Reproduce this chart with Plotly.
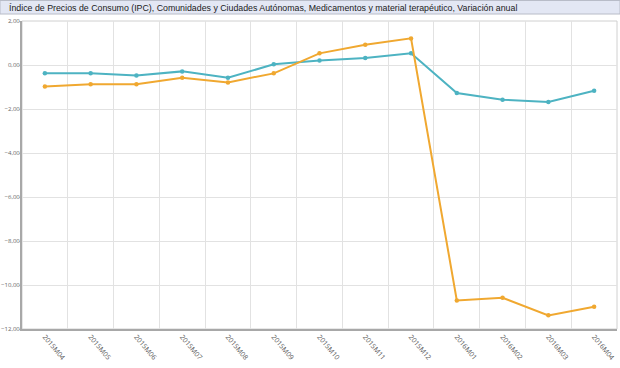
import plotly.graph_objects as go

categories = ["2015M04", "2015M05", "2015M06", "2015M07", "2015M08", "2015M09",
              "2015M10", "2015M11", "2015M12", "2016M01", "2016M02", "2016M03", "2016M04"]
serie_azul = [-0.38, -0.38, -0.48, -0.29, -0.58, 0.03, 0.21, 0.32, 0.53, -1.27, -1.58, -1.68, -1.17]
serie_naranja = [-0.98, -0.88, -0.88, -0.58, -0.79, -0.38, 0.53, 0.92, 1.21, -10.70, -10.58, -11.38, -10.99]
y_ticks = [2, 0, -2, -4, -6, -8, -10, -12]
titulo = ("Índice de Precios de Consumo (IPC), Comunidades y Ciudades Autónomas, "
          "Medicamentos y material terapéutico, Variación anual")

W, H = 620, 368
L, R, T, B = 22, 3, 21, 39
pw = W - L - R
ph = H - T - B

fig = go.Figure()
fig.add_trace(go.Scatter(x=categories, y=serie_azul, mode="lines+markers",
                         line=dict(color="#4db3c2", width=2),
                         marker=dict(size=4.5, color="#4db3c2"), hoverinfo="skip"))
fig.add_trace(go.Scatter(x=categories, y=serie_naranja, mode="lines+markers",
                         line=dict(color="#f0a830", width=2),
                         marker=dict(size=4.5, color="#f0a830"), hoverinfo="skip"))

def py(pix):
    return 1 + (T - pix) / ph

fig.add_shape(type="rect", xref="paper", yref="paper", x0=0, x1=1, y0=0, y1=1,
              line=dict(color="#d0d0d0", width=1), layer="below")
fig.add_shape(type="rect", xref="paper", yref="paper",
              x0=-L / pw, x1=1 + R / pw, y0=py(14), y1=py(0.5),
              line=dict(color="#b8bcc8", width=1), fillcolor="#e3e7f4", layer="below")
fig.add_annotation(text=titulo, xref="paper", yref="paper",
                   x=(7 - L) / pw, y=py(7.5),
                   xanchor="left", yanchor="middle", showarrow=False,
                   font=dict(family="Liberation Sans, Arial", size=8.8, color="#1a1a1a"))

fig.update_layout(
    width=W, height=H, margin=dict(l=L, r=R, t=T, b=B, autoexpand=False),
    paper_bgcolor="white", plot_bgcolor="white", showlegend=False,
    separators=",.",
    xaxis=dict(type="category", tickson="boundaries", showgrid=True, gridcolor="#e2e2e2",
               gridwidth=1, tickangle=50, showline=True, linecolor="#a8a8a8", linewidth=2,
               ticks="", tickfont=dict(family="Open Sans, Arial", size=7, color="#555555"),
               ticklabelstandoff=-1,
               zeroline=False, range=[-0.5, 12.5], automargin=False),
    yaxis=dict(range=[-12, 2], tickvals=y_ticks, tickformat=".2f", showgrid=True,
               gridcolor="#e2e2e2", gridwidth=1, showline=True, linecolor="#a8a8a8",
               linewidth=2, ticks="outside", ticklen=1, tickcolor="#cfcfcf",
               tickfont=dict(family="Open Sans, Arial", size=6, color="#666666"),
               ticklabelstandoff=-2,
               zeroline=False, automargin=False),
)

fig.write_html("out.html", config={"displayModeBar": False},
               post_script="document.body.style.margin='0';document.body.style.overflow='hidden';")
